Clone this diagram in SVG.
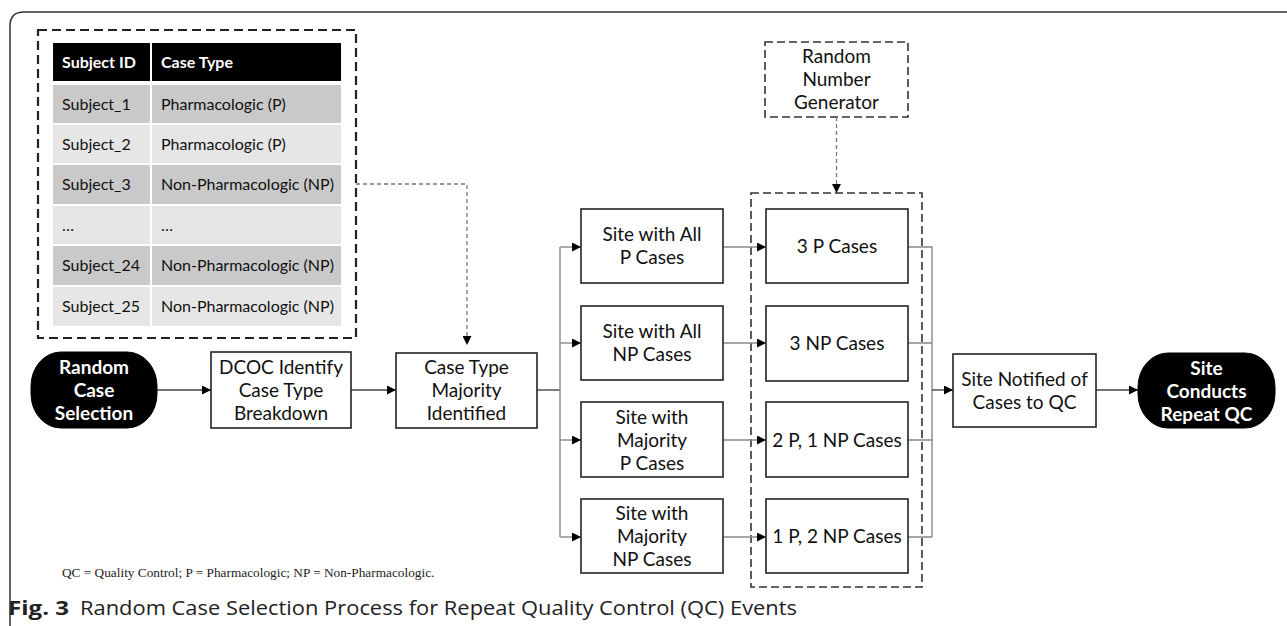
<svg xmlns="http://www.w3.org/2000/svg" width="1287" height="626" viewBox="0 0 1287 626">
<defs>
<marker id="ah" viewBox="0 0 10 10" refX="10" refY="5" markerWidth="9" markerHeight="9" markerUnits="userSpaceOnUse" orient="auto">
<path d="M0,0 L10,5 L0,10 z" fill="#000"/>
</marker>
<style>
.box{fill:#fff;stroke:#222;stroke-width:1.6}
.term{fill:#000;stroke:#000;stroke-width:1}
.t{font-family:Lato,"Open Sans","Liberation Sans",sans-serif;font-size:19px;fill:#111;text-anchor:middle}
.tw{font-family:Lato,"Open Sans","Liberation Sans",sans-serif;font-size:19px;font-weight:bold;fill:#fff;text-anchor:middle}
.tb{font-family:Lato,"Open Sans","Liberation Sans",sans-serif;font-size:16px;fill:#111}
.th{font-family:Lato,"Open Sans","Liberation Sans",sans-serif;font-size:16px;font-weight:bold;fill:#fff}
.dk{fill:#c9c9c9}
.lt{fill:#e6e6e6}
.dbox{fill:none;stroke:#222;stroke-width:2.2;stroke-dasharray:9,5}
.dbox2{fill:#fff;stroke:#333;stroke-width:1.6;stroke-dasharray:8,4}
.dline{fill:none;stroke:#777;stroke-width:1.3;stroke-dasharray:4,3}
.main{fill:none;stroke:#444;stroke-width:1.4}
.br{fill:none;stroke:#888;stroke-width:1.4}
.cap{font-family:"Open Sans","Liberation Sans",sans-serif;font-size:20px;fill:#222}
</style>
</defs>
<rect width="1287" height="626" fill="#fff"/>
<path d="M10,626 L10,26 Q10,12 24,12 L1287,12" fill="none" stroke="#333" stroke-width="1.5"/>

<g id="table">
<rect class="dbox" x="38" y="30" width="318" height="308"/>
<rect x="53" y="43" width="97" height="38" fill="#000"/>
<rect x="152" y="43" width="189" height="38" fill="#000"/>
<text class="th" x="62" y="67.5">Subject ID</text>
<text class="th" x="161" y="67.5">Case Type</text>
<rect class="dk" x="53" y="85" width="97" height="38"/><rect class="dk" x="152" y="85" width="189" height="38"/>
<rect class="lt" x="53" y="125" width="97" height="38"/><rect class="lt" x="152" y="125" width="189" height="38"/>
<rect class="dk" x="53" y="165" width="97" height="39"/><rect class="dk" x="152" y="165" width="189" height="39"/>
<rect class="lt" x="53" y="206" width="97" height="38"/><rect class="lt" x="152" y="206" width="189" height="38"/>
<rect class="dk" x="53" y="246" width="97" height="39"/><rect class="dk" x="152" y="246" width="189" height="39"/>
<rect class="lt" x="53" y="287" width="97" height="39"/><rect class="lt" x="152" y="287" width="189" height="39"/>
<text class="tb" x="62" y="109.5">Subject_1</text><text class="tb" x="161" y="109.5">Pharmacologic (P)</text>
<text class="tb" x="62" y="149.5">Subject_2</text><text class="tb" x="161" y="149.5">Pharmacologic (P)</text>
<text class="tb" x="62" y="190">Subject_3</text><text class="tb" x="161" y="190">Non-Pharmacologic (NP)</text>
<text class="tb" x="62" y="230.5">…</text><text class="tb" x="161" y="230.5">…</text>
<text class="tb" x="62" y="271">Subject_24</text><text class="tb" x="161" y="271">Non-Pharmacologic (NP)</text>
<text class="tb" x="62" y="312">Subject_25</text><text class="tb" x="161" y="312">Non-Pharmacologic (NP)</text>
</g>

<g id="rng">
<rect class="dbox2" x="765" y="42" width="143" height="75"/>
<text class="t" x="836.5" y="63">Random</text>
<text class="t" x="836.5" y="86">Number</text>
<text class="t" x="836.5" y="109">Generator</text>
</g>

<g id="group">
<rect class="dbox2" x="751" y="193" width="171" height="394" fill="none"/>
</g>

<g id="connectors">
<path class="dline" d="M356,184 H467 V345" marker-end="url(#ah)"/>
<path class="dline" d="M836.5,117 V193" marker-end="url(#ah)"/>
<path class="main" d="M157,390 H211" marker-end="url(#ah)"/>
<path class="main" d="M351,390 H396" marker-end="url(#ah)"/>
<path class="main" d="M537,390 H560"/>
<path class="br" d="M560,247 V537"/>
<path class="br" d="M560,247 H581" marker-end="url(#ah)"/>
<path class="br" d="M560,343 H581" marker-end="url(#ah)"/>
<path class="br" d="M560,440 H581" marker-end="url(#ah)"/>
<path class="br" d="M560,537 H581" marker-end="url(#ah)"/>
<path class="br" d="M723,247 H766" marker-end="url(#ah)"/>
<path class="br" d="M723,343 H766" marker-end="url(#ah)"/>
<path class="br" d="M723,440 H766" marker-end="url(#ah)"/>
<path class="br" d="M723,537 H766" marker-end="url(#ah)"/>
<path class="br" d="M908,247 H932 V537 M908,343 H932 M908,440 H932 M908,537 H932"/>
<path class="main" d="M932,390 H953" marker-end="url(#ah)"/>
<path class="main" d="M1096,390 H1138" marker-end="url(#ah)"/>
</g>

<g id="random-case-selection">
<rect class="term" x="31" y="352" width="126" height="76" rx="30" ry="34"/>
<text class="tw" x="94" y="373.5">Random</text>
<text class="tw" x="94" y="396.5">Case</text>
<text class="tw" x="94" y="419.5">Selection</text>
</g>
<g id="dcoc">
<rect class="box" x="211" y="352" width="140" height="76"/>
<text class="t" x="281" y="373.5">DCOC Identify</text>
<text class="t" x="281" y="396.5">Case Type</text>
<text class="t" x="281" y="419.5">Breakdown</text>
</g>
<g id="majority">
<rect class="box" x="396" y="353" width="141" height="75"/>
<text class="t" x="466.5" y="373.5">Case Type</text>
<text class="t" x="466.5" y="396.5">Majority</text>
<text class="t" x="466.5" y="419.5">Identified</text>
</g>

<g id="site-all-p">
<rect class="box" x="581" y="209" width="142" height="74"/>
<text class="t" x="652" y="241">Site with All</text>
<text class="t" x="652" y="264">P Cases</text>
</g>
<g id="site-all-np">
<rect class="box" x="581" y="306" width="142" height="74"/>
<text class="t" x="652" y="338">Site with All</text>
<text class="t" x="652" y="361">NP Cases</text>
</g>
<g id="site-maj-p">
<rect class="box" x="581" y="402" width="142" height="75"/>
<text class="t" x="652" y="423.5">Site with</text>
<text class="t" x="652" y="446.5">Majority</text>
<text class="t" x="652" y="469.5">P Cases</text>
</g>
<g id="site-maj-np">
<rect class="box" x="581" y="499" width="142" height="74"/>
<text class="t" x="652" y="520">Site with</text>
<text class="t" x="652" y="543">Majority</text>
<text class="t" x="652" y="566">NP Cases</text>
</g>

<g id="case-3p">
<rect class="box" x="766" y="209" width="142" height="74"/>
<text class="t" x="837" y="252.5">3 P Cases</text>
</g>
<g id="case-3np">
<rect class="box" x="766" y="306" width="142" height="75"/>
<text class="t" x="837" y="350">3 NP Cases</text>
</g>
<g id="case-2p1np">
<rect class="box" x="766" y="402" width="142" height="75"/>
<text class="t" x="837" y="446.5">2 P, 1 NP Cases</text>
</g>
<g id="case-1p2np">
<rect class="box" x="766" y="499" width="142" height="74"/>
<text class="t" x="837" y="543">1 P, 2 NP Cases</text>
</g>

<g id="site-notified">
<rect class="box" x="953" y="354" width="143" height="73"/>
<text class="t" x="1024.5" y="386">Site Notified of</text>
<text class="t" x="1024.5" y="409">Cases to QC</text>
</g>
<g id="site-conducts">
<rect class="term" x="1138" y="353" width="137" height="75" rx="30" ry="34"/>
<text class="tw" x="1206.5" y="374.5">Site</text>
<text class="tw" x="1206.5" y="397.5">Conducts</text>
<text class="tw" x="1206.5" y="420.5">Repeat QC</text>
</g>

<text x="62" y="577" font-family="'Liberation Serif',serif" font-size="13.3" fill="#222">QC = Quality Control; P = Pharmacologic; NP = Non-Pharmacologic.</text>
<text class="cap" x="8" y="615" font-weight="bold" textLength="61" lengthAdjust="spacingAndGlyphs">Fig. 3</text>
<text class="cap" x="80" y="615" textLength="717" lengthAdjust="spacingAndGlyphs">Random Case Selection Process for Repeat Quality Control (QC) Events</text>
</svg>
